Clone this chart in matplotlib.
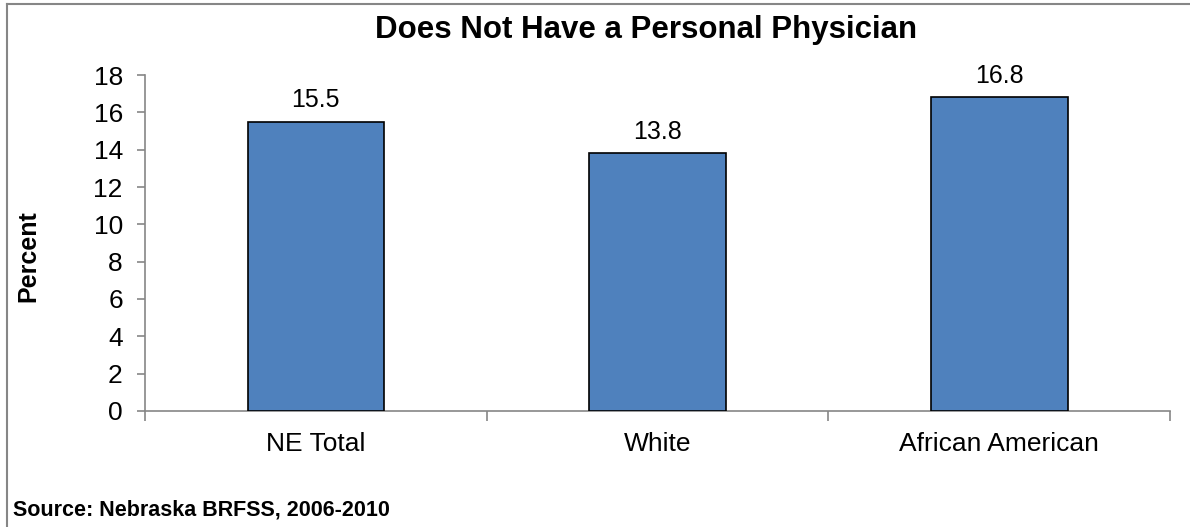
import matplotlib
matplotlib.use("Agg")
import matplotlib.pyplot as plt
from matplotlib.lines import Line2D

categories = ["NE Total", "White", "African American"]
values = [15.5, 13.8, 16.8]
yticks = [0, 2, 4, 6, 8, 10, 12, 14, 16, 18]
title = "Does Not Have a Personal Physician"
ylabel = "Percent"
source = "Source: Nebraska BRFSS, 2006-2010"

plt.rcParams['font.family'] = ['Liberation Sans', 'DejaVu Sans']
W, H = 1190, 527
fig = plt.figure(figsize=(W/100, H/100), dpi=100)
ax = fig.add_axes([145/W, 1-411/H, (1170-145)/W, (411-75)/H])

x = list(range(len(categories)))
ax.bar(x, values, width=0.4, color="#4F81BD", edgecolor="black", linewidth=1.2, zorder=3)
for xi, v in zip(x, values):
    ax.annotate(f"{v:.1f}", (xi, v), xytext=(0, 7), textcoords="offset points",
                ha="center", va="bottom", fontsize=18)

ax.set_xlim(-0.5, len(categories)-0.5)
ax.set_ylim(0, 18)
ax.set_yticks(yticks)
ax.set_xticks(x)
ax.set_xticklabels(categories, fontsize=19)
ax.set_xticks([i - 0.5 for i in range(len(categories)+1)], minor=True)
ax.tick_params(axis='x', which='major', length=0, pad=15)
ax.tick_params(axis='x', which='minor', length=7, color="#868686", width=1.2)
ax.tick_params(axis='y', length=6, color="#868686", width=1.2, labelsize=19, pad=10)
for s in ["top", "right"]:
    ax.spines[s].set_visible(False)
for s in ["left", "bottom"]:
    ax.spines[s].set_color("#868686")
    ax.spines[s].set_linewidth(1.2)

fig.text(646/W, 1-30/H, title, ha="center", va="center", fontsize=22.5, fontweight="bold")
fig.text(28/W, 1-256/H, ylabel, ha="center", va="center", rotation=90, fontsize=18, fontweight="bold")
fig.text(13/W, 1-510/H, source, ha="left", va="center", fontsize=15.5, fontweight="bold")

fig.lines.append(Line2D([7/W, 7/W], [0, 1-4/H], transform=fig.transFigure, color="#868686", linewidth=1.5))
fig.lines.append(Line2D([7/W, 1], [1-4/H, 1-4/H], transform=fig.transFigure, color="#868686", linewidth=1.5))

fig.savefig("out.png", dpi=100)
